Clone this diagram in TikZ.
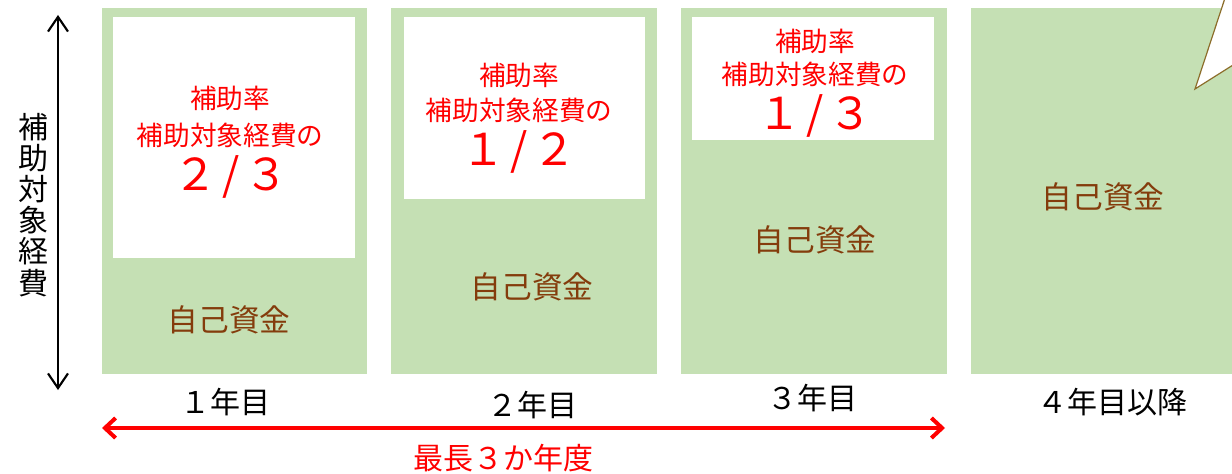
\documentclass[tikz,border=0pt]{standalone}
\usepackage{fontspec}
\usetikzlibrary{arrows.meta}
\newfontfamily\jp{Noto Sans CJK JP}
\definecolor{kgreen}{HTML}{C5E0B4}
\definecolor{kbrown}{HTML}{843C0C}
\definecolor{kline}{HTML}{8C6D2A}
\tikzset{
  yearbox/.style={fill=kgreen,draw=none},
  ratebox/.style={fill=white,draw=none},
  rate/.style={text=red,font=\jp\fontsize{20}{23}\selectfont,inner sep=0pt},
  ratebig/.style={text=red,font=\jp\fontsize{33}{36}\selectfont,inner sep=0pt},
  own/.style={text=kbrown,font=\jp\fontsize{23}{26}\selectfont,inner sep=0pt},
  yearlbl/.style={font=\jp\fontsize{22.5}{26}\selectfont,inner sep=0pt},
}
\newcommand\frc[2]{#1\hspace{0.12em}/\hspace{0.12em}#2}
\begin{document}
\begin{tikzpicture}[x=0.75pt,y=-0.75pt]
	\useasboundingbox (0,0) rectangle (1232,474);
	% green columns
	\fill[yearbox] (102,8) rectangle (367,374);
	\fill[yearbox] (391,8) rectangle (657,374);
	\fill[yearbox] (681,8) rectangle (947,374);
	\fill[yearbox] (971,8) rectangle (1232,374);
	% white parts
	\fill[ratebox] (113,17) rectangle (355,258);
	\fill[ratebox] (404,17) rectangle (645,199);
	\fill[ratebox] (692,17) rectangle (934,140);
	% callout (cut off)
	\begin{scope}
		\clip (0,0) rectangle (1232,474);
		\filldraw[fill=white,draw=kline,line width=0.9pt] (1226,-5) -- (1195,89) -- (1260,48) -- (1260,-5) -- cycle;
	\end{scope}
	% 1st year
	\node[rate] (r1a) at (230,98) {補助率};
	\node[rate] (r1b) at (230,135) {補助対象経費の};
	\node[ratebig] (r1c) at (231,177) {\frc{２}{３}};
	\node[own] (o1) at (229,320) {自己資金};
	% 2nd year
	\node[rate] (r2a) at (519,75) {補助率};
	\node[rate] (r2b) at (519,110) {補助対象経費の};
	\node[ratebig] (r2c) at (519,152) {\frc{１}{２}};
	\node[own] (o2) at (532,287) {自己資金};
	% 3rd year
	\node[rate] (r3a) at (815,41) {補助率};
	\node[rate] (r3b) at (815,74) {補助対象経費の};
	\node[ratebig] (r3c) at (815,116) {\frc{１}{３}};
	\node[own] (o3) at (815,240) {自己資金};
	% 4th year
	\node[own] (o4) at (1103,197) {自己資金};
	% year labels
	\node[yearlbl] (y1) at (225,402) {１年目};
	\node[yearlbl] (y2) at (532,405) {２年目};
	\node[yearlbl] (y3) at (812,398) {３年目};
	\node[yearlbl] (y4) at (1112,402) {４年目以降};
	% cost axis
	\coordinate (ctop) at (58,15);
	\coordinate (cbot) at (58,390);
	\draw[line width=1.6pt,{Straight Barb[length=11pt,width=15pt]}-{Straight Barb[length=11pt,width=15pt]}] (ctop) -- (cbot);
	\node[font=\jp\fontsize{22.5}{23.3}\selectfont,inner sep=0pt,align=center] (cost) at (33,205) {補\\助\\対\\象\\経\\費};
	% period
	\coordinate (pl) at (102,428);
	\coordinate (pr) at (945,428);
	\draw[red,line width=3pt,{Straight Barb[length=8pt,width=15pt]}-{Straight Barb[length=8pt,width=15pt]}] (pl) -- (pr);
	\node[yearlbl,text=red] (period) at (503,458) {最長３か年度};
\end{tikzpicture}
\end{document}
